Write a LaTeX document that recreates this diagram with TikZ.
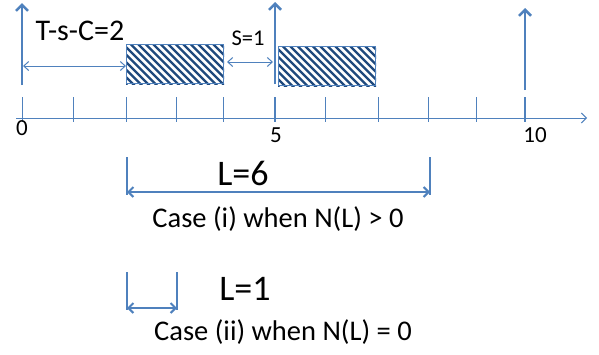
\documentclass[tikz,border=0pt]{standalone}
\usepackage{fontspec}
\setmainfont{Carlito}
\usetikzlibrary{arrows.meta}
\definecolor{ablue}{RGB}{79,129,189}
\definecolor{hatchc}{RGB}{31,73,125}
\begin{document}
\begin{tikzpicture}[x=1pt,y=-1pt,
  thinarrow/.style={ablue, line width=1pt, {Straight Barb[length=5pt,width=9pt,line width=1pt]}-{Straight Barb[length=5pt,width=9pt,line width=1pt]}},
  axisarrow/.style={ablue, line width=1pt, -{Straight Barb[length=5pt,width=10pt,line width=1pt]}},
  bigarrow/.style={ablue, line width=2.8pt, -{Straight Barb[length=6pt,width=12pt,line width=2.5pt]}},
  brackline/.style={ablue, line width=2pt},
  brackarrow/.style={ablue, line width=2pt, {Straight Barb[length=5pt,width=10pt,line width=2pt]}-{Straight Barb[length=5pt,width=10pt,line width=2pt]}},
  tickline/.style={ablue, line width=0.9pt},
  boldtick/.style={ablue, line width=2.6pt},
  boxstyle/.style={draw=ablue, line width=1.2pt, minimum width=97pt, minimum height=39pt, inner sep=0pt, anchor=north west},
  hatchline/.style={hatchc, line width=2.3pt},
  bigtxt/.style={font=\fontsize{36}{40}\selectfont, inner sep=0pt},
  tsctxt/.style={font=\fontsize{30}{34}\selectfont, inner sep=0pt},
  midtxt/.style={font=\fontsize{28.5}{32}\selectfont, inner sep=0pt},
  smalltxt/.style={font=\fontsize{22.5}{26}\selectfont, inner sep=0pt},
  numtxt/.style={font=\fontsize{23}{27}\selectfont, inner sep=0pt}
]
\useasboundingbox (0,0) rectangle (599,354);

% axis
\coordinate (ax0) at (16,118);
\coordinate (axend) at (587,118);
\draw[axisarrow] (ax0) -- (axend);
\foreach \n/\xx in {0/22,1/73,2/126,3/176,4/223,6/325,7/378,8/428,9/476}{
  \coordinate (tt\n) at (\xx,97);
  \coordinate (tb\n) at (\xx,122);
  \draw[tickline] (tt\n) -- (tb\n);
}
\foreach \n/\xx in {5/275,10/525}{
  \coordinate (tt\n) at (\xx,97);
  \coordinate (tb\n) at (\xx,122);
  \draw[boldtick] (tt\n) -- (tb\n);
}
\node[numtxt] (l0) at (22,128) {0};
\node[numtxt] (l5) at (276,135) {5};
\node[numtxt] (l10) at (535,135) {10};

% tall arrows
\coordinate (a0b) at (22,85); \coordinate (a0t) at (22,3);
\coordinate (a5b) at (275,84); \coordinate (a5t) at (275,2);
\coordinate (a10b) at (525,90); \coordinate (a10t) at (525,8);
\draw[bigarrow] (a0b) -- (a0t);
\draw[bigarrow] (a5b) -- (a5t);
\draw[bigarrow] (a10b) -- (a10t);

% hatched boxes
\node[boxstyle, fill=white] (box1) at (126,44) {};
\begin{scope}
  \clip (box1.south west) rectangle (box1.north east);
  \foreach \k in {-48,-40.5,...,105} \draw[hatchline] (126+\k,44) -- ++(45,45);
\end{scope}
\node[boxstyle] (box1b) at (126,44) {};

\node[boxstyle, fill=white] (box2) at (278,46) {};
\begin{scope}
  \clip (box2.south west) rectangle (box2.north east);
  \foreach \k in {-48,-40.5,...,105} \draw[hatchline] (278+\k,46) -- ++(45,45);
\end{scope}
\node[boxstyle] (box2b) at (278,46) {};

% T-s-C arrow
\coordinate (tsc0) at (23,66);
\coordinate (tsc1) at (box1.west |- tsc0);
\draw[thinarrow] (tsc0) -- (tsc1);
\node[tsctxt] (tsclabel) at (80,31) {T-s-C=2};

% S=1
\coordinate (s0) at (227,62);
\coordinate (s1) at (273,62);
\draw[thinarrow] (s0) -- (s1);
\node[smalltxt] (slabel) at (248,38) {S=1};

% L=6
\coordinate (b1t) at (127,157); \coordinate (b1b) at (127,195);
\coordinate (b2t) at (430,157); \coordinate (b2b) at (430,195);
\draw[brackline] (b1t) -- (b1b);
\draw[brackline] (b2t) -- (b2b);
\coordinate (b1m) at (127,192); \coordinate (b2m) at (430,192);
\draw[brackarrow] (b1m) -- (b2m);
\node[bigtxt] (L6) at (243,173) {L=6};
\node[midtxt] (case1) at (278,219) {Case (i) when N(L) > 0};

% L=1
\coordinate (c1t) at (127,272); \coordinate (c1b) at (127,310);
\coordinate (c2t) at (177,272); \coordinate (c2b) at (177,310);
\draw[brackline] (c1t) -- (c1b);
\draw[brackline] (c2t) -- (c2b);
\coordinate (c1m) at (127,308); \coordinate (c2m) at (177,308);
\draw[brackarrow] (c1m) -- (c2m);
\node[bigtxt] (L1) at (245,289) {L=1};
\node[midtxt] (case2) at (283,332) {Case (ii) when N(L) = 0};
\end{tikzpicture}
\end{document}
